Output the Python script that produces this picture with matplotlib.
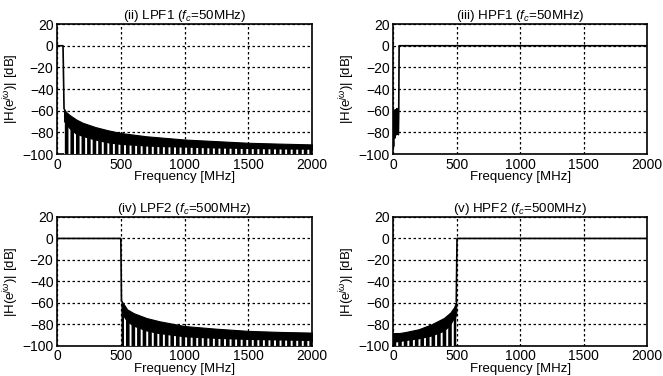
import numpy as np
import matplotlib
matplotlib.use("Agg")
import matplotlib.pyplot as plt

plt.rcParams['font.family'] = ['Liberation Sans', 'DejaVu Sans']
plt.rcParams['mathtext.fontset'] = 'custom'
plt.rcParams['mathtext.rm'] = 'Liberation Sans'
plt.rcParams['mathtext.it'] = 'Liberation Sans:italic'
plt.rcParams['font.size'] = 9
plt.rcParams['hatch.linewidth'] = 1.4

# ---- data (MHz, dB) ----
# LPF1 (fc = 50 MHz)
lpf1_pass_f = [0, 47, 55]
lpf1_pass_db = [0, 0, -58]
lpf1_band_f = [55, 70, 100, 150, 200, 300, 400, 500, 700, 800, 1000, 1250, 1500, 1750, 2000]
lpf1_top = [-58, -61, -64, -68, -71, -75, -78, -80.5, -83.5, -84.5, -86.5, -88, -89.5, -90.3, -91]
lpf1_gap = [-70, -73, -77, -82, -84, -87.5, -90, -91.5, -93, -93.5, -94, -94.8, -95.3, -95.7, -96]

# HPF1 (fc = 50 MHz)
hpf1_f = [0, 3, 5, 8, 11, 14, 17, 20, 23, 26, 29, 32, 35, 38, 41, 44, 47, 2000]
hpf1_db = [-62, -93, -60, -80, -62, -85, -59, -78, -61, -82, -58, -79, -60, -81, -82, -60, 0, 0]

# LPF2 (fc = 500 MHz)
lpf2_pass_f = [0, 500, 505]
lpf2_pass_db = [0, 0, -58]
lpf2_band_f = [505, 550, 600, 700, 800, 1000, 1250, 1500, 1750, 2000]
lpf2_top = [-58, -66, -69.5, -74, -77, -81.5, -84, -86, -87, -87.6]
lpf2_gap = [-70, -78, -82, -86.5, -89, -92, -93.5, -94.5, -95, -95.5]

# HPF2 (fc = 500 MHz)
hpf2_band_f = [0, 50, 100, 200, 300, 400, 450, 480, 497]
hpf2_top = [-88, -88, -87, -84.5, -80, -74, -69, -64, -58.5]
hpf2_gap = [-97, -96.5, -95.5, -94, -91.5, -87, -82, -76, -70]
hpf2_pass_f = [497, 503, 2000]
hpf2_pass_db = [-58.5, 0, 0]

titles = ['(ii) LPF1 ($f_c$=50MHz)', '(iii) HPF1 ($f_c$=50MHz)',
          '(iv) LPF2 ($f_c$=500MHz)', '(v) HPF2 ($f_c$=500MHz)']
floor_db = -100


def style(ax, title):
    ax.set_xlim(0, 2000)
    ax.set_ylim(-100, 20)
    ax.set_xticks([0, 500, 1000, 1500, 2000])
    ax.set_yticks([20, 0, -20, -40, -60, -80, -100])
    ax.grid(True, color='k', linestyle=(0, (2, 2)), linewidth=0.9)
    ax.tick_params(direction='in', length=0, pad=2.5, labelsize=10)
    for s in ax.spines.values():
        s.set_linewidth(1.2)
    ax.set_title(title, fontsize=9.6, pad=2)
    ax.set_xlabel('Frequency [MHz]', fontsize=9.5, labelpad=-0.5)
    ax.set_ylabel(r'|H(e$^{j\omega}$)| [dB]', fontsize=9.5, labelpad=1)


def band(ax, f, top, gap):
    ax.fill_between(f, top, gap, color='k', linewidth=0.8, zorder=3)
    ax.fill_between(f, gap, floor_db, facecolor='k', edgecolor='white',
                    hatch='|||', linewidth=0, zorder=3)


fig = plt.figure(figsize=(6.63, 3.76), dpi=100)
ax1 = fig.add_axes([0.086, 0.590, 0.385, 0.346])
ax2 = fig.add_axes([0.593, 0.590, 0.383, 0.346])
ax3 = fig.add_axes([0.086, 0.080, 0.385, 0.343])
ax4 = fig.add_axes([0.593, 0.080, 0.383, 0.343])

ax1.plot(lpf1_pass_f, lpf1_pass_db, color='k', lw=1.2, zorder=4)
band(ax1, lpf1_band_f, lpf1_top, lpf1_gap)

ax2.plot(hpf1_f, hpf1_db, color='k', lw=1.2, zorder=4)

ax3.plot(lpf2_pass_f, lpf2_pass_db, color='k', lw=1.2, zorder=4)
band(ax3, lpf2_band_f, lpf2_top, lpf2_gap)

band(ax4, hpf2_band_f, hpf2_top, hpf2_gap)
ax4.plot(hpf2_pass_f, hpf2_pass_db, color='k', lw=1.2, zorder=4)

for ax, t in zip([ax1, ax2, ax3, ax4], titles):
    style(ax, t)

fig.savefig('out.png', dpi=100)
